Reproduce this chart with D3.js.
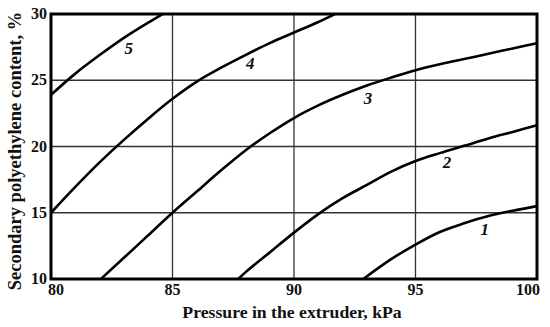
<!DOCTYPE html>
<html>
<head>
<meta charset="utf-8">
<script src="https://cdn.jsdelivr.net/npm/d3@7"></script>
<style>
  html, body { margin: 0; padding: 0; background: #fff; }
  svg { display: block; }
  text { font-family: "Liberation Serif", "Times New Roman", serif; font-weight: bold; fill: #111; }
</style>
</head>
<body>
<svg id="chart" width="550" height="327"></svg>
<script>
// ---- data ----
const xTicks = [80, 85, 90, 95, 100];
const yTicks = [10, 15, 20, 25, 30];
const curveNames = ["1", "2", "3", "4", "5"];
const curve1 = [[92.85, 10], [94, 11.5], [95, 12.6], [96, 13.55], [97, 14.2], [98, 14.75], [99, 15.15], [100, 15.5]];
const curve2 = [[87.7, 10], [88, 10.5], [89, 12.0], [90, 13.5], [91, 14.9], [92, 16.1], [93, 17.1], [94, 18.1],
                [95, 18.9], [96, 19.5], [97, 20.05], [98, 20.6], [99, 21.1], [100, 21.6]];
const curve3 = [[82.05, 10], [83, 11.6], [84, 13.3], [85, 15.0], [86, 16.6], [87, 18.2], [88, 19.7], [89, 21.0],
                [90, 22.15], [91, 23.1], [92, 23.9], [93, 24.6], [94, 25.2], [95, 25.75], [96, 26.2], [97, 26.6],
                [98, 27.0], [99, 27.4], [100, 27.8]];
const curve4 = [[80, 15], [81, 16.95], [82, 18.8], [83, 20.5], [84, 22.1], [85, 23.6], [86, 24.9], [87, 25.95],
                [88, 26.9], [89, 27.8], [90, 28.6], [91, 29.4], [91.69, 30]];
const curve5 = [[80, 23.9], [81, 25.5], [82, 26.9], [83, 28.2], [84, 29.35], [84.6, 30]];
const labelPos = [[97.85, 13.7], [96.3, 18.8], [93.05, 23.6], [88.2, 26.3], [83.2, 27.4]];
const xTitle = "Pressure in the extruder, kPa";
const yTitle = "Secondary polyethylene content, %";

const curves = [curve1, curve2, curve3, curve4, curve5];

const svg = d3.select("#chart");
const pLeft = 51, pRight = 537, pTop = 14, pBottom = 279;

const x = d3.scaleLinear().domain([80, 100]).range([pLeft, pRight]);
const y = d3.scaleLinear().domain([10, 30]).range([pBottom, pTop]);

// gridlines
svg.append("g").selectAll("line").data(xTicks.slice(1, -1)).join("line")
  .attr("x1", d => x(d)).attr("x2", d => x(d))
  .attr("y1", pTop).attr("y2", pBottom)
  .attr("stroke", "#333").attr("stroke-width", 1.3);
svg.append("g").selectAll("line").data(yTicks.slice(1, -1)).join("line")
  .attr("y1", d => y(d)).attr("y2", d => y(d))
  .attr("x1", pLeft).attr("x2", pRight)
  .attr("stroke", "#333").attr("stroke-width", 1.3);

// curves
const line = d3.line().x(d => x(d[0])).y(d => y(d[1])).curve(d3.curveMonotoneX);
svg.append("g").selectAll("path").data(curves).join("path")
  .attr("d", line)
  .attr("fill", "none").attr("stroke", "#000").attr("stroke-width", 2.6)
  .attr("stroke-linecap", "butt");

// frame
svg.append("rect")
  .attr("x", pLeft).attr("y", pTop)
  .attr("width", pRight - pLeft).attr("height", pBottom - pTop)
  .attr("fill", "none").attr("stroke", "#000").attr("stroke-width", 3);

// curve labels
svg.append("g").selectAll("text").data(labelPos).join("text")
  .attr("x", d => x(d[0])).attr("y", d => y(d[1]))
  .attr("text-anchor", "middle").attr("dominant-baseline", "central")
  .style("font-style", "italic").style("font-size", "17px")
  .text((d, i) => curveNames[i]);

// x axis tick labels
svg.append("g").selectAll("text").data(xTicks).join("text")
  .attr("x", (d, i) => x(d) + (i === 0 ? 5 : i === xTicks.length - 1 ? -9 : 0))
  .attr("y", 295)
  .attr("text-anchor", "middle")
  .style("font-size", "16px")
  .text(d => d);

// y axis tick labels
svg.append("g").selectAll("text").data(yTicks).join("text")
  .attr("x", 47)
  .attr("y", d => y(d) + 5)
  .attr("text-anchor", "end")
  .style("font-size", "16px")
  .text(d => d);

// axis titles
svg.append("text")
  .attr("x", 292).attr("y", 318)
  .attr("text-anchor", "middle")
  .style("font-size", "17.7px")
  .text(xTitle);

svg.append("text")
  .attr("transform", "translate(21,151) rotate(-90)")
  .attr("text-anchor", "middle")
  .style("font-size", "18.5px")
  .text(yTitle);
</script>
</body>
</html>
